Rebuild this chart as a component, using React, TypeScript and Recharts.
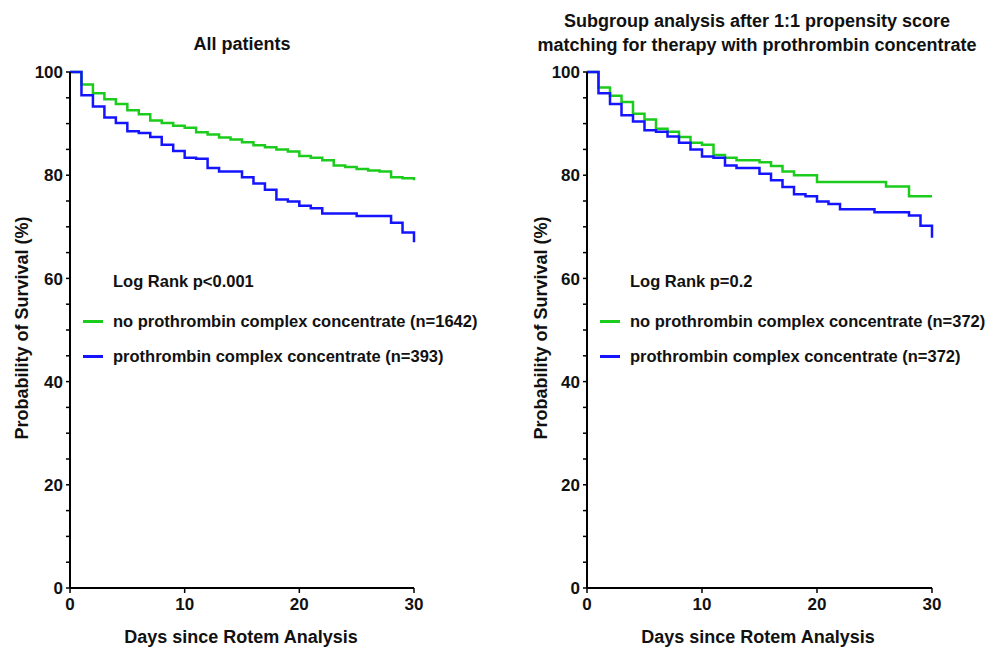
import React from 'react';
import { LineChart, Line, XAxis, YAxis } from 'recharts';

// days 0..30, survival in %
const days = Array.from({ length: 31 }, (_, i) => i);

const allNoPcc = [100, 97.6, 95.9, 94.7, 93.8, 92.6, 91.8, 90.6, 90.1, 89.6, 89.2, 88.3, 87.9, 87.3, 86.9, 86.4,
  85.8, 85.4, 85.0, 84.6, 83.7, 83.4, 82.9, 81.9, 81.6, 81.2, 80.9, 80.7, 79.6, 79.4, 79.0];
const allPcc = [100, 95.5, 93.3, 91.2, 90.1, 88.5, 88.2, 87.4, 85.9, 84.7, 83.4, 83.2, 81.4, 80.7, 80.7, 79.6,
  78.4, 77.2, 75.3, 74.9, 74.1, 73.6, 72.6, 72.6, 72.6, 72.1, 72.1, 72.1, 70.8, 68.9, 67.0];

const psmNoPcc = [100, 97.0, 95.4, 94.2, 91.9, 90.8, 89.0, 88.4, 87.4, 86.3, 85.9, 83.9, 83.4, 82.9, 82.9, 82.5,
  81.8, 80.7, 80.0, 80.0, 78.7, 78.7, 78.7, 78.7, 78.7, 78.7, 77.8, 77.8, 75.9, 75.9, 75.9];
const psmPcc = [100, 95.9, 93.8, 91.6, 90.4, 88.7, 88.4, 87.5, 86.3, 85.0, 83.6, 83.4, 81.9, 81.4, 81.4, 80.3,
  79.0, 77.7, 76.3, 75.9, 74.9, 74.4, 73.4, 73.4, 73.4, 72.8, 72.8, 72.8, 72.2, 70.2, 67.9];

const xTicks = [0, 10, 20, 30];
const yTicks = Array.from({ length: 21 }, (_, i) => i * 5);

const GREEN = '#1ccc1c';
const BLUE = '#1414ff';
const FONT = '"Liberation Sans", Arial, sans-serif';

const buildRows = (a: number[], b: number[]) =>
  days.map((d, i) => ({ day: d, noPcc: a[i], pcc: b[i] }));

const YTick = (props: any) => {
  const { x, y, payload } = props;
  if (payload.value % 20 !== 0) return null;
  return (
    <text x={x} y={y} dy="0.36em" textAnchor="end" fontSize={17} fontWeight="bold" fill="#111" fontFamily={FONT}>
      {payload.value}
    </text>
  );
};

const XTick = (props: any) => {
  const { x, y, payload } = props;
  return (
    <text x={x} y={y} dy="0.8em" textAnchor="middle" fontSize={17} fontWeight="bold" fill="#111" fontFamily={FONT}>
      {payload.value}
    </text>
  );
};

interface PanelProps {
  left: number;
  width: number;
  marginLeft: number;
  marginRight: number;
  green: number[];
  blue: number[];
}

const Panel: React.FC<PanelProps> = ({ left, width, marginLeft, marginRight, green, blue }) => (
  <div style={{ position: 'absolute', left, top: 0 }}>
    <LineChart
      width={width}
      height={649}
      data={buildRows(green, blue)}
      margin={{ top: 72, right: marginRight, bottom: 11, left: marginLeft }}
    >
      <XAxis
        dataKey="day"
        type="number"
        domain={[0, 30]}
        ticks={xTicks}
        height={50}
        tick={<XTick />}
        tickSize={5}
        tickMargin={3}
        axisLine={{ stroke: '#000', strokeWidth: 2 }}
        tickLine={{ stroke: '#000', strokeWidth: 1.5 }}
      />
      <YAxis
        type="number"
        domain={[0, 100]}
        ticks={yTicks}
        interval={0}
        width={60}
        tick={<YTick />}
        tickSize={4}
        tickMargin={3}
        axisLine={{ stroke: '#000', strokeWidth: 2 }}
        tickLine={{ stroke: '#000', strokeWidth: 1.5 }}
      />
      <Line type="stepAfter" dataKey="noPcc" stroke={GREEN} strokeWidth={2.5} dot={false} isAnimationActive={false} />
      <Line type="stepAfter" dataKey="pcc" stroke={BLUE} strokeWidth={2.5} dot={false} isAnimationActive={false} />
    </LineChart>
  </div>
);

const text = (style: React.CSSProperties, children: React.ReactNode) => (
  <div style={{ position: 'absolute', fontWeight: 'bold', color: '#111', whiteSpace: 'nowrap', ...style }}>
    {children}
  </div>
);

const LegendBlock: React.FC<{ x: number; stat: string; labels: string[] }> = ({ x, stat, labels }) => (
  <>
    {text({ left: x + 30, top: 271, fontSize: 16.5, lineHeight: '20px' }, stat)}
    {labels.map((l, i) => (
      <React.Fragment key={l + i}>
        <div style={{ position: 'absolute', left: x, top: 320 + i * 35, width: 20, height: 2.5, background: i === 0 ? GREEN : BLUE }} />
        {text({ left: x + 30, top: 311 + i * 35, fontSize: 16.5, lineHeight: '20px' }, l)}
      </React.Fragment>
    ))}
  </>
);

export default function App() {
  return (
    <div style={{ position: 'absolute', left: 0, top: 0, width: 1003, height: 649, background: '#fff', fontFamily: FONT, overflow: 'hidden' }}>
      <Panel left={0} width={500} marginLeft={10} marginRight={86} green={allNoPcc} blue={allPcc} />
      <Panel left={500} width={503} marginLeft={27} marginRight={71} green={psmNoPcc} blue={psmPcc} />

      {text({ left: 0, width: 484, top: 33, textAlign: 'center', fontSize: 18, lineHeight: '22px' }, 'All patients')}
      {text({ left: 500, width: 514, top: 9, textAlign: 'center', fontSize: 18, lineHeight: '24px' },
        <>Subgroup analysis after 1:1 propensity score<br />matching for therapy with prothrombin concentrate</>)}

      {text({ left: 0, width: 482, top: 626, textAlign: 'center', fontSize: 18, lineHeight: '22px' }, 'Days since Rotem Analysis')}
      {text({ left: 518, width: 480, top: 626, textAlign: 'center', fontSize: 18, lineHeight: '22px' }, 'Days since Rotem Analysis')}

      {text({ left: 22 - 150, width: 300, top: 317, textAlign: 'center', fontSize: 18, lineHeight: '22px', transform: 'rotate(-90deg)' }, 'Probability of Survival (%)')}
      {text({ left: 541 - 150, width: 300, top: 317, textAlign: 'center', fontSize: 18, lineHeight: '22px', transform: 'rotate(-90deg)' }, 'Probability of Survival (%)')}

      <LegendBlock x={83} stat="Log Rank p<0.001" labels={['no prothrombin complex concentrate (n=1642)', 'prothrombin complex concentrate (n=393)']} />
      <LegendBlock x={600} stat="Log Rank p=0.2" labels={['no prothrombin complex concentrate (n=372)', 'prothrombin complex concentrate (n=372)']} />
    </div>
  );
}
